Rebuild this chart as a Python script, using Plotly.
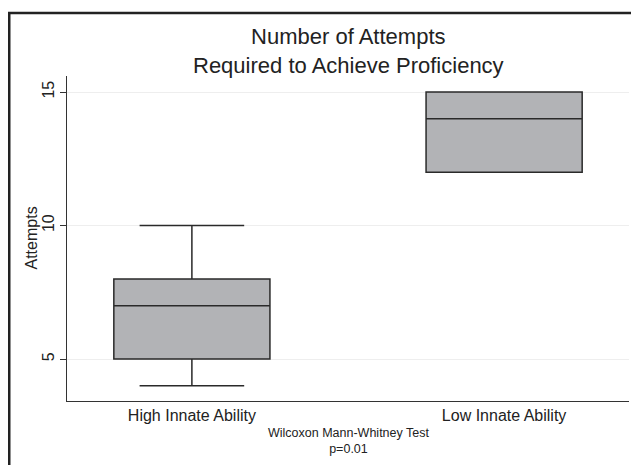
import plotly.graph_objects as go

groups = ["High Innate Ability", "Low Innate Ability"]
lower = [4, 12]
q1 = [5, 12]
median = [7, 14]
q3 = [8, 15]
upper = [10, 15]
yticks = [5, 10, 15]

fig = go.Figure()
fig.add_trace(go.Box(
    x=[0, 1], q1=q1, median=median, q3=q3, lowerfence=lower, upperfence=upper,
    fillcolor="#b2b3b6", line=dict(color="#2a2a2a", width=1.5),
    width=0.5, whiskerwidth=0.67, boxpoints=False, showlegend=False,
    hoverinfo="skip",
))

# page is offset by the 8px body margin
OFF = 8
W, H = 639 - OFF, 465 - OFF
l, r, t, b = 67 - OFF, 10, 76 - OFF, 64
pw, ph = W - l - r, H - t - b

def px(xp):  # page x -> paper x
    return (xp - OFF - l) / pw

def py(yp):  # page y -> paper y
    return (H - b - (yp - OFF)) / ph

fx = (1.25 - l) / pw
fy = (H - b - 5) / ph

def line_note(text, ypage, size):
    return dict(text=text, xref="paper", yref="paper", x=0.5, y=py(ypage),
                xanchor="center", yanchor="middle",
                showarrow=False, font=dict(size=size, color="#222"))

fig.update_layout(
    width=W, height=H,
    margin=dict(l=l, r=r, t=t, b=b, autoexpand=False),
    paper_bgcolor="white", plot_bgcolor="white",
    font=dict(family="Liberation Sans, Arial, sans-serif", color="#222"),
    xaxis=dict(range=[-0.4, 1.4], tickmode="array", tickvals=[0, 1], ticktext=groups,
               showgrid=False, zeroline=False, showline=True, linecolor="#333", linewidth=1,
               ticks="", tickfont=dict(size=16, color="#222"), automargin=False),
    yaxis=dict(range=[3.43, 15.6], tickmode="array", tickvals=yticks,
               ticktext=[str(v) for v in yticks], tickangle=-90,
               showgrid=True, gridcolor="#eeeeee", gridwidth=1, zeroline=False,
               showline=True, linecolor="#333", linewidth=1,
               ticks="outside", ticklen=6, tickcolor="#333",
               tickfont=dict(size=16, color="#222"), automargin=False),
    shapes=[dict(type="path", xref="paper", yref="paper",
                 path=f"M {fx} -1 L {fx} {fy} L 1.2 {fy}",
                 line=dict(color="#222", width=2.5))],
    annotations=[
        line_note("Number of Attempts<br>Required to Achieve Proficiency", 50.5, 22),
        dict(text="Attempts", xref="paper", yref="paper", textangle=-90,
             x=px(31), y=0.5, xanchor="center", yanchor="middle",
             showarrow=False, font=dict(size=16, color="#222")),
        line_note("Wilcoxon Mann-Whitney Test<br>p=0.01", 441, 12.5),
    ],
)

fig.write_html("out.html")
